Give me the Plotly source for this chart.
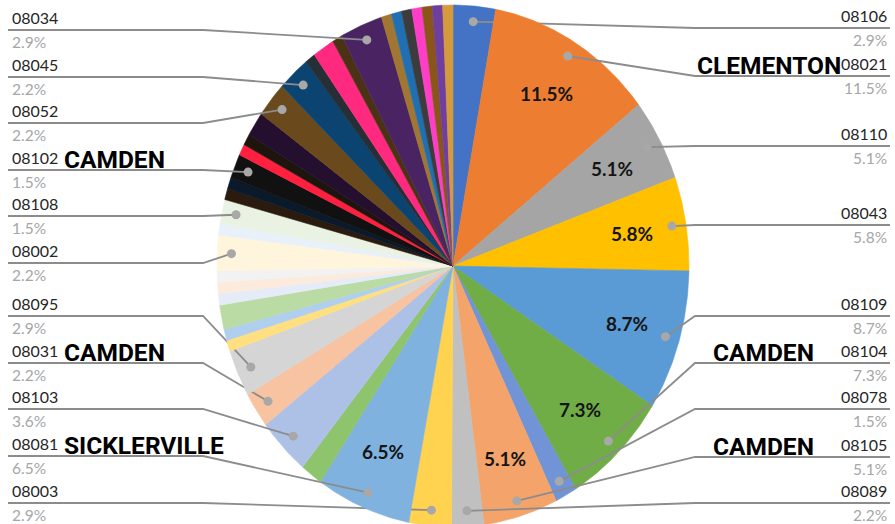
import math
import plotly.graph_objects as go

# ---- data: share of records by ZIP code (percent), clockwise from 12 o'clock ----
ZIPS = [
    "08106", "08021", "08110", "08043", "08109", "08104", "08078", "08105", "08089",
    "08003", "08081", None, "08103", "08031", "08095", None, None, None,
    None, None, None, "08002", None, "08108",
    None, None, "08102", None, None, None, "08052", "08045", None, None, None,
    "08034", None, None, None, None, None, None, None,
]
SHARES = [
    2.9, 11.5, 5.1, 5.8, 8.7, 7.3, 1.5, 5.1, 2.2,
    2.9, 6.5, 1.5, 3.6, 2.2, 2.9, 0.7, 0.7, 1.5,
    0.7, 0.7, 0.7, 2.2, 0.7, 1.5,
    0.7, 0.7, 1.5, 0.7, 0.7, 1.5, 2.2, 2.2, 0.7, 1.5, 0.7,
    2.9, 0.7, 0.7, 0.7, 0.7, 0.7, 0.7, 0.7,
]
COLORS = [
    "#4472C4", "#ED7D31", "#A5A5A5", "#FFC000", "#5B9BD5", "#70AD47", "#7094D6", "#F4A46B", "#C0C0C0",
    "#FFD34F", "#80B2E0", "#8DC46C", "#ADC1E7", "#F7C3A0", "#D5D5D5", "#FFDF80", "#B0CFEE", "#BADBA4",
    "#E5ECF7", "#FCEBDD", "#F2F2F2", "#FFF5DD", "#E8F0FA", "#EAF2E4",
    "#2B1B0E", "#0B1A2B", "#111111", "#FF1F3F", "#1E160E", "#240F2E", "#6A4A1C", "#0B4470", "#262E36",
    "#FF2A7F", "#4B3214",
    "#4A2462", "#A07632", "#1F6FB2", "#3C3C3C", "#FF3EC8", "#8A5518", "#6F3FA0", "#D59A3C",
]
# town names written beside some of the ZIP labels
TOWNS = {
    "08021": "CLEMENTON",
    "08102": "CAMDEN",
    "08031": "CAMDEN",
    "08081": "SICKLERVILLE",
    "08104": "CAMDEN",
    "08105": "CAMDEN",
}

# ---- layout constants ----
W, H = 895, 524
CX, CY, RX, RY = 453, 266, 236, 261
DOT_R = 0.94          # radial position of leader-line dots
INNER_R = 0.77        # radial position of in-slice percentages
INNER_MIN = 5.0       # slices at least this big show their share inside
LEFT_X0, LEFT_X1 = 8, 203
RIGHT_X0, RIGHT_X1 = 695, 890
ROW_Y = {
    "08034": 30, "08045": 77, "08052": 123, "08102": 170, "08108": 216, "08002": 263,
    "08095": 316, "08031": 363, "08103": 409, "08081": 456, "08003": 503,
    "08106": 28, "08021": 76, "08110": 146, "08043": 225, "08109": 316,
    "08104": 363, "08078": 409, "08105": 457, "08089": 503,
}
TOWN_POS = {  # (x, anchor)
    "08021": (843, "right"),
    "08104": (711, "left"),
    "08105": (711, "left"),
    "08102": (62, "left"),
    "08031": (62, "left"),
    "08081": (62, "left"),
}

LINE_COLOR = "#8C8C8C"
DOT_COLOR = "#A8A8A8"
ZIP_FONT = dict(family="Lato, 'Open Sans', sans-serif", size=16, color="#262626")
PCT_FONT = dict(family="Lato, 'Open Sans', sans-serif", size=15.5, color="#A6A6A6")
IN_FONT = dict(family="Lato, 'Open Sans', sans-serif", size=19, color="#151515", weight="bold")
TOWN_FONT = dict(family="Roboto, 'Liberation Sans', sans-serif",
                 size=24.5, color="#000000", weight="bold")


def pt(angle_deg, frac=1.0):
    a = math.radians(angle_deg)
    return CX + RX * frac * math.sin(a), CY - RY * frac * math.cos(a)


total = sum(SHARES)
fig = go.Figure()
annotations = []

start = 0.0
for zip_code, share, color in zip(ZIPS, SHARES, COLORS):
    a0 = start / total * 360.0
    a1 = (start + share) / total * 360.0
    start += share
    n = max(4, int((a1 - a0) * 2))
    xs, ys = [CX], [CY]
    for i in range(n + 1):
        x, y = pt(a0 + (a1 - a0) * i / n)
        xs.append(x)
        ys.append(y)
    xs.append(CX)
    ys.append(CY)
    fig.add_trace(go.Scatter(
        x=xs, y=ys, mode="lines", fill="toself", fillcolor=color,
        line=dict(color=color, width=0.6), hoverinfo="skip", showlegend=False,
    ))

    mid = (a0 + a1) / 2
    if share >= INNER_MIN:
        tx, ty = pt(mid, INNER_R)
        annotations.append(dict(x=tx, y=ty, text=f"{share:.1f}%", showarrow=False,
                                font=IN_FONT, xanchor="center", yanchor="middle"))

    if zip_code is None:
        continue
    row = ROW_Y[zip_code]
    dx, dy = pt(mid, DOT_R)
    right = mid < 180
    if right:
        lx = [dx, RIGHT_X0, RIGHT_X1]
        tx, anchor = RIGHT_X1 - 1, "right"
    else:
        lx = [dx, LEFT_X1, LEFT_X0]
        tx, anchor = LEFT_X0 + 2, "left"
    fig.add_trace(go.Scatter(
        x=lx, y=[dy, row, row], mode="lines",
        line=dict(color=LINE_COLOR, width=1.8), hoverinfo="skip", showlegend=False,
    ))
    fig.add_trace(go.Scatter(
        x=[dx], y=[dy], mode="markers",
        marker=dict(size=9, color=DOT_COLOR), hoverinfo="skip", showlegend=False,
    ))
    annotations.append(dict(x=tx, y=row - 13, text=zip_code, showarrow=False,
                            font=ZIP_FONT, xanchor=anchor, yanchor="middle"))
    annotations.append(dict(x=tx, y=row + 11.5, text=f"{share:.1f}%", showarrow=False,
                            font=PCT_FONT, xanchor=anchor, yanchor="middle"))
    if zip_code in TOWNS:
        bx, banchor = TOWN_POS[zip_code]
        annotations.append(dict(x=bx, y=row - 11, text=TOWNS[zip_code], showarrow=False,
                                font=TOWN_FONT, xanchor=banchor, yanchor="middle"))

fig.update_layout(
    width=W, height=H,
    margin=dict(l=0, r=0, t=0, b=0),
    paper_bgcolor="white", plot_bgcolor="white",
    xaxis=dict(range=[0, W], visible=False, fixedrange=True),
    yaxis=dict(range=[H, 0], visible=False, fixedrange=True),
    annotations=annotations,
    showlegend=False,
)

fig.write_html("out.html")
